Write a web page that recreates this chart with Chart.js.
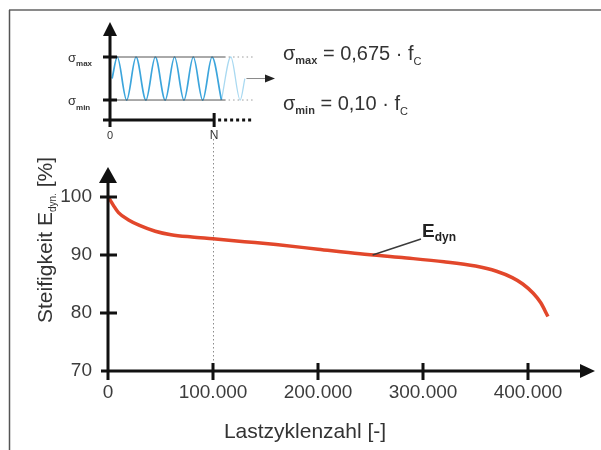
<!DOCTYPE html>
<html>
<head>
<meta charset="utf-8">
<title>Steifigkeit E_dyn über Lastzyklenzahl</title>
<script src="https://cdn.jsdelivr.net/npm/chart.js@4.4.0/dist/chart.umd.min.js"></script>
<style>
  html, body { margin: 0; padding: 0; background: #ffffff; }
  #wrap { position: relative; width: 601px; height: 450px; overflow: hidden; }
  #main, #inset { position: absolute; left: 0; top: 0; }
</style>
</head>
<body>
<div id="wrap">
  <canvas id="main" width="601" height="450"></canvas>
  <canvas id="inset" width="601" height="150"></canvas>
</div>
<script>
// ---- Stiffness curve: dynamic modulus vs. number of load cycles ----
const cycles    = [0, 2000, 5000, 10000, 20000, 30000, 45000, 60000, 80000, 100000,
                   130000, 160000, 200000, 240000, 280000, 320000, 350000, 370000,
                   385000, 395000, 405000, 412000, 419000];
const stiffness = [100, 99.5, 98.6, 97.3, 96.0, 95.1, 94.1, 93.5, 93.1, 92.8,
                   92.3, 91.8, 91.0, 90.2, 89.55, 88.85, 88.1, 87.2,
                   86.1, 85.0, 83.4, 81.8, 79.4];

const xTickValues = [0, 100000, 200000, 300000, 400000];
const xTickLabels = ['0', '100.000', '200.000', '300.000', '400.000'];
const yTickValues = [70, 80, 90, 100];
const yTickLabels = ['70', '80', '90', '100'];
const markCycle = 100000;          // N, marked in both diagrams

// ---- Load schematic: stress oscillating between sigma_min and sigma_max ----
const sigmaMax = 0.675;
const sigmaMin = 0.10;
const sigmaMid = 0.3875;
const waveCycles = [2000, 7000, 16000, 25000, 34500, 43500, 53000, 62000, 71000,
                    80000, 89000, 98000, 107000];
const waveStress = [0.3875, 0.675, 0.10, 0.675, 0.10, 0.675, 0.10, 0.675, 0.10,
                    0.675, 0.10, 0.675, 0.10];
const tailCycles = [107000, 116000, 125000, 129500];
const tailStress = [0.10, 0.675, 0.10, 0.3875];

const FONT = "'Liberation Sans', Arial, Helvetica, sans-serif";
const TEXT = '#333333';
const AXIS = '#111111';

// draws a row of text runs (for subscripts), returns total width
function runsWidth(ctx, runs) {
  let w = 0;
  runs.forEach(r => { ctx.font = r.font; w += ctx.measureText(r.text).width; });
  return w;
}
function drawRuns(ctx, x, y, runs) {
  runs.forEach(r => {
    ctx.font = r.font;
    ctx.fillText(r.text, x, y + (r.dy || 0));
    x += ctx.measureText(r.text).width;
  });
  return x;
}

const mainDecor = {
  id: 'mainDecor',
  beforeDatasetsDraw(chart) {
    const ctx = chart.ctx, xs = chart.scales.x, ys = chart.scales.y;
    // dotted guide from N down to the cycle axis
    const xn = Math.round(xs.getPixelForValue(markCycle)) + 0.5;
    ctx.save();
    ctx.strokeStyle = '#8c8c8c';
    ctx.lineWidth = 1;
    ctx.setLineDash([1.5, 2.5]);
    ctx.beginPath();
    ctx.moveTo(xn, 139);
    ctx.lineTo(xn, ys.getPixelForValue(70));
    ctx.stroke();
    ctx.restore();
  },
  afterDraw(chart) {
    const ctx = chart.ctx, xs = chart.scales.x, ys = chart.scales.y;
    const x0 = xs.getPixelForValue(0);
    const yb = ys.getPixelForValue(70);
    ctx.save();

    // frame
    ctx.strokeStyle = '#8a8a8a';
    ctx.lineWidth = 2;
    ctx.beginPath(); ctx.moveTo(9, 10); ctx.lineTo(601, 10); ctx.stroke();
    ctx.strokeStyle = '#555555';
    ctx.lineWidth = 1.5;
    ctx.beginPath(); ctx.moveTo(9.5, 10); ctx.lineTo(9.5, 450); ctx.stroke();

    // axes
    ctx.strokeStyle = AXIS;
    ctx.fillStyle = AXIS;
    ctx.lineWidth = 3;
    ctx.beginPath();
    ctx.moveTo(x0, yb + 9); ctx.lineTo(x0, ys.top + 12);
    ctx.moveTo(x0 - 7, yb); ctx.lineTo(xs.right - 10, yb);
    ctx.stroke();
    // arrowheads
    ctx.beginPath();
    ctx.moveTo(x0, ys.top - 1); ctx.lineTo(x0 - 9, ys.top + 15); ctx.lineTo(x0 + 9, ys.top + 15);
    ctx.closePath(); ctx.fill();
    ctx.beginPath();
    ctx.moveTo(xs.right + 4, yb); ctx.lineTo(xs.right - 11, yb - 7); ctx.lineTo(xs.right - 11, yb + 7);
    ctx.closePath(); ctx.fill();
    // crossing tick marks
    ctx.beginPath();
    yTickValues.forEach(v => {
      const y = ys.getPixelForValue(v);
      if (v !== 70) { ctx.moveTo(x0 - 8, y); ctx.lineTo(x0 + 9, y); }
    });
    xTickValues.forEach(v => {
      const x = xs.getPixelForValue(v);
      if (v !== 0) { ctx.moveTo(x, yb - 8); ctx.lineTo(x, yb + 9); }
    });
    ctx.stroke();

    // axis titles
    ctx.fillStyle = TEXT;
    ctx.textBaseline = 'alphabetic';
    ctx.textAlign = 'left';
    ctx.font = '21px ' + FONT;
    const xt = 'Lastzyklenzahl [-]';
    ctx.fillText(xt, 305 - ctx.measureText(xt).width / 2, 438);

    const yRuns = [
      { text: 'Steifigkeit E', font: '21px ' + FONT },
      { text: 'dyn.', font: '10px ' + FONT, dy: 4 },
      { text: ' [%]', font: '21px ' + FONT }
    ];
    ctx.save();
    ctx.translate(52, 240);
    ctx.rotate(-Math.PI / 2);
    drawRuns(ctx, -runsWidth(ctx, yRuns) / 2, 0, yRuns);
    ctx.restore();

    // series label with leader line
    ctx.strokeStyle = '#3a3a3a';
    ctx.lineWidth = 1.4;
    ctx.beginPath();
    ctx.moveTo(xs.getPixelForValue(252000), ys.getPixelForValue(90.0));
    ctx.lineTo(421, 239);
    ctx.stroke();
    ctx.fillStyle = '#222222';
    drawRuns(ctx, 422, 237, [
      { text: 'E', font: 'bold 19px ' + FONT },
      { text: 'dyn', font: 'bold 12px ' + FONT, dy: 4 }
    ]);

    // load levels
    ctx.fillStyle = TEXT;
    drawRuns(ctx, 283, 60, [
      { text: 'σ', font: '20px ' + FONT },
      { text: 'max', font: 'bold 11px ' + FONT, dy: 4 },
      { text: ' = 0,675 · f', font: '20px ' + FONT },
      { text: 'C', font: '11px ' + FONT, dy: 5 }
    ]);
    drawRuns(ctx, 283, 110, [
      { text: 'σ', font: '20px ' + FONT },
      { text: 'min', font: 'bold 11px ' + FONT, dy: 4 },
      { text: ' = 0,10 · f', font: '20px ' + FONT },
      { text: 'C', font: '11px ' + FONT, dy: 5 }
    ]);
    ctx.restore();
  }
};

new Chart(document.getElementById('main'), {
  type: 'line',
  data: {
    datasets: [{
      label: 'E_dyn',
      data: cycles.map((c, i) => ({ x: c, y: stiffness[i] })),
      borderColor: '#e2472b',
      borderWidth: 3.5,
      pointRadius: 0,
      fill: false,
      cubicInterpolationMode: 'monotone'
    }]
  },
  options: {
    responsive: false,
    animation: false,
    devicePixelRatio: 1,
    layout: { padding: { left: 0, right: 10, top: 168, bottom: 0 } },
    plugins: { legend: { display: false }, tooltip: { enabled: false } },
    scales: {
      x: {
        type: 'linear', min: 0, max: 460000,
        grid: { display: false, drawTicks: false },
        border: { display: false },
        afterBuildTicks: s => { s.ticks = xTickValues.map(v => ({ value: v })); },
        afterFit: s => { s.height = 79; },
        ticks: {
          padding: 10, color: '#3c3c3c', autoSkip: false, maxRotation: 0,
          font: { family: FONT, size: 19 },
          callback: (v, i) => xTickLabels[i]
        }
      },
      y: {
        type: 'linear', min: 70, max: 105,
        grid: { display: false, drawTicks: false },
        border: { display: false },
        afterBuildTicks: s => { s.ticks = yTickValues.map(v => ({ value: v })); },
        afterFit: s => { s.width = 108; },
        ticks: {
          padding: 16, color: '#3c3c3c', autoSkip: false,
          font: { family: FONT, size: 19 },
          callback: (v, i) => yTickLabels[i]
        }
      }
    }
  },
  plugins: [mainDecor]
});

// ---- inset: load schematic ----
const insetDecor = {
  id: 'insetDecor',
  afterDraw(chart) {
    const ctx = chart.ctx, xs = chart.scales.x, ys = chart.scales.y;
    const x0 = xs.getPixelForValue(0);
    const yb = chart.chartArea.bottom;
    const yMax = ys.getPixelForValue(sigmaMax);
    const yMin = ys.getPixelForValue(sigmaMin);
    const yMid = ys.getPixelForValue(sigmaMid);
    const xEnd = xs.getPixelForValue(111000);
    const xDot = xs.getPixelForValue(138000);
    const xN = xs.getPixelForValue(markCycle);
    ctx.save();

    // stress level lines
    ctx.strokeStyle = '#555555';
    ctx.lineWidth = 1;
    ctx.beginPath();
    [yMax, yMin].forEach(y => { ctx.moveTo(x0, y); ctx.lineTo(xEnd, y); });
    ctx.stroke();
    ctx.strokeStyle = '#9a9a9a';
    ctx.setLineDash([1.5, 3]);
    ctx.beginPath();
    [yMax, yMin].forEach(y => { ctx.moveTo(xEnd + 3, y); ctx.lineTo(xDot, y); });
    ctx.stroke();
    ctx.setLineDash([]);

    // arrow continuing to the right
    ctx.strokeStyle = '#8a8a8a';
    ctx.lineWidth = 1;
    ctx.beginPath(); ctx.moveTo(xs.getPixelForValue(131000), yMid); ctx.lineTo(266, yMid); ctx.stroke();
    ctx.fillStyle = '#222222';
    ctx.beginPath(); ctx.moveTo(275, yMid); ctx.lineTo(265, yMid - 4); ctx.lineTo(265, yMid + 4); ctx.closePath(); ctx.fill();

    // axes
    ctx.strokeStyle = AXIS;
    ctx.fillStyle = AXIS;
    ctx.lineWidth = 3;
    ctx.beginPath();
    ctx.moveTo(x0, yb + 7); ctx.lineTo(x0, chart.chartArea.top + 12);
    ctx.moveTo(x0 - 7, yb); ctx.lineTo(xN, yb);
    ctx.moveTo(xN, yb - 7); ctx.lineTo(xN, yb + 7);
    ctx.moveTo(x0 - 7, yMax); ctx.lineTo(x0 + 7, yMax);
    ctx.moveTo(x0 - 7, yMin); ctx.lineTo(x0 + 7, yMin);
    ctx.stroke();
    ctx.beginPath();
    ctx.moveTo(x0, chart.chartArea.top); ctx.lineTo(x0 - 7, chart.chartArea.top + 14); ctx.lineTo(x0 + 7, chart.chartArea.top + 14);
    ctx.closePath(); ctx.fill();
    ctx.setLineDash([3, 3]);
    ctx.beginPath(); ctx.moveTo(xN + 4, yb); ctx.lineTo(xDot, yb); ctx.stroke();
    ctx.setLineDash([]);

    // labels
    ctx.fillStyle = TEXT;
    ctx.textBaseline = 'alphabetic';
    ctx.textAlign = 'left';
    drawRuns(ctx, 68, yMax + 5, [
      { text: 'σ', font: '13px ' + FONT },
      { text: 'max', font: 'bold 8px ' + FONT, dy: 4 }
    ]);
    drawRuns(ctx, 68, yMin + 5, [
      { text: 'σ', font: '13px ' + FONT },
      { text: 'min', font: 'bold 8px ' + FONT, dy: 5 }
    ]);
    ctx.textAlign = 'center';
    ctx.font = '11px ' + FONT;
    ctx.fillText('0', x0, yb + 19);
    ctx.font = '12px ' + FONT;
    ctx.fillText('N', xN, yb + 19);
    ctx.restore();
  }
};

new Chart(document.getElementById('inset'), {
  type: 'line',
  data: {
    datasets: [
      {
        label: 'sigma',
        data: waveCycles.map((c, i) => ({ x: c, y: waveStress[i] })),
        borderColor: '#3ca5dc',
        borderWidth: 1.7,
        pointRadius: 0,
        fill: false,
        clip: false,
        cubicInterpolationMode: 'monotone'
      },
      {
        label: 'sigma_tail',
        data: tailCycles.map((c, i) => ({ x: c, y: tailStress[i] })),
        borderColor: '#a9d9f1',
        borderWidth: 1.3,
        pointRadius: 0,
        fill: false,
        clip: false,
        cubicInterpolationMode: 'monotone'
      }
    ]
  },
  options: {
    responsive: false,
    animation: false,
    devicePixelRatio: 1,
    layout: { padding: { left: 110, right: 12, top: 22, bottom: 30 } },
    plugins: { legend: { display: false }, tooltip: { enabled: false } },
    scales: {
      x: { type: 'linear', min: 0, max: 460000, display: false },
      y: { type: 'linear', min: -0.167, max: 1.143, display: false }
    }
  },
  plugins: [insetDecor]
});
</script>
</body>
</html>
